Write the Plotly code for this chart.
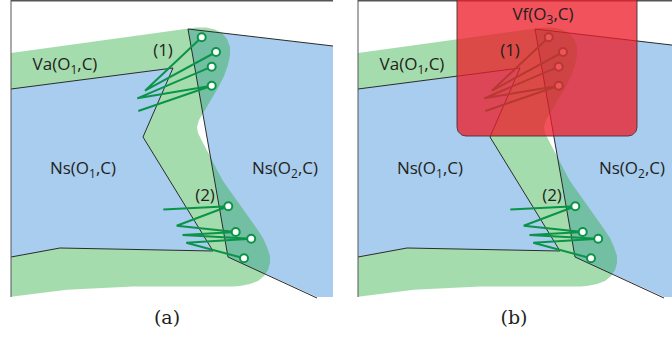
import numpy as np
import plotly.graph_objects as go

# ---------------- data (panel (a) coordinates, pixel space, y down) ----------------
PANEL_SHIFT = 347  # panel (b) is panel (a) shifted right

ns1_x = [11, 173, 143, 213, 60, 11]
ns1_y = [89, 68, 137, 251, 248, 257]

ns2_x = [188, 333, 333, 317, 228]
ns2_y = [29, 46, 297, 297, 257]

ns2_edge_x = [333, 188, 228, 317]
ns2_edge_y = [46, 29, 257, 298]

green_x = [11, 188, 196, 206, 215, 222, 227, 230, 230, 228, 224, 218, 211, 204, 199, 197, 198, 202,
           207, 212, 217, 223, 257, 263, 267, 270, 270, 268, 264, 258, 250, 240, 233, 200, 133, 67, 11,
           11, 60, 213, 143, 173, 11]
green_y = [53, 29, 27.5, 27.5, 29.5, 33, 39, 47, 55, 65, 76, 88, 100, 111, 120, 127, 133, 141,
           150, 160, 170, 181, 229, 238, 247, 256, 263, 270, 276, 281, 284, 286, 286.5, 286.5, 286.5,
           289.7, 296.7, 257, 248, 251, 137, 68, 89]

frame_top_x = [11, 333]
frame_top_y = [0.7, 0.7]
frame_left_x = [11, 11]
frame_left_y = [0, 297]

# trajectory group (1)
g1_circ_x = [201.7, 216, 211.7, 211.7]
g1_circ_y = [37.3, 52, 66.7, 85.7]
g1_pathA_x = [201.7, 145, 216]
g1_pathA_y = [37.3, 90.7, 52]
g1_pathB_x = [211.7, 137.3, 211.7, 138.3]
g1_pathB_y = [66.7, 98.3, 85.7, 111]

# trajectory group (2)
g2_circ_x = [228.3, 235.7, 251.2, 244]
g2_circ_y = [206.2, 232, 238.8, 258.3]
g2_path_x = [163.3, 228.3, 176.7, 235.7, 182.5, 251.2, 186.3, 244]
g2_path_y = [209.5, 206.2, 225.7, 232, 235, 238.8, 242.8, 258.3]

# red region Vf(O3,C) in panel (b)
vf_box = [457, 637, -12, 136]  # x0, x1, y0, y1
vf_radius = 9

labels_text = ["Va(O<sub>1</sub>,C)", "(1)", "Ns(O<sub>1</sub>,C)", "Ns(O<sub>2</sub>,C)", "(2)"]
labels_x = [65, 163, 83, 285, 205]
labels_y = [66, 52, 170, 170, 197]

vf_label = "Vf(O<sub>3</sub>,C)"
vf_label_xy = (543, 16)

captions = ["(a)", "(b)"]
captions_x = [167, 514]
captions_y = [319, 319]

# ---------------- styles ----------------
BLUE = "#a8cdee"
GREEN_FILL = "rgba(40,171,60,0.42)"
LINE_GREEN = "#0a9447"
EDGE = "#2b2b2b"
FRAME = "#555555"
RED_FILL = "rgba(237,28,40,0.76)"
TEXT = "#231f20"

fig = go.Figure()


def sh(xs, dx):
    return [v + dx for v in xs]


def add_poly(xs, ys, color):
    fig.add_trace(go.Scatter(x=xs + [xs[0]], y=ys + [ys[0]], mode="lines", fill="toself",
                             fillcolor=color, line=dict(width=0, color=color),
                             hoverinfo="skip", showlegend=False))


def add_line(xs, ys, color, width):
    fig.add_trace(go.Scatter(x=xs, y=ys, mode="lines", line=dict(color=color, width=width),
                             hoverinfo="skip", showlegend=False))


def add_text(xs, ys, texts, family, size):
    fig.add_trace(go.Scatter(x=xs, y=ys, mode="text", text=texts, textposition="middle center",
                             textfont=dict(family=family, size=size, color=TEXT),
                             hoverinfo="skip", showlegend=False, cliponaxis=False))


for dx in (0, PANEL_SHIFT):
    add_poly(sh(ns1_x, dx), ns1_y, BLUE)
    add_poly(sh(ns2_x, dx), ns2_y, BLUE)
    add_poly(sh(green_x, dx), green_y, GREEN_FILL)
    add_line(sh(ns1_x, dx), ns1_y, EDGE, 1)
    add_line(sh(ns2_edge_x, dx), ns2_edge_y, EDGE, 1)
    add_line(sh(frame_top_x, dx), frame_top_y, FRAME, 1.4)
    add_line(sh(frame_left_x, dx), frame_left_y, FRAME, 1)
    add_line(sh(g1_pathA_x, dx), g1_pathA_y, LINE_GREEN, 2)
    add_line(sh(g1_pathB_x, dx), g1_pathB_y, LINE_GREEN, 2)
    add_line(sh(g2_path_x, dx), g2_path_y, LINE_GREEN, 2)
    fig.add_trace(go.Scatter(x=sh(g1_circ_x + g2_circ_x, dx), y=g1_circ_y + g2_circ_y,
                             mode="markers",
                             marker=dict(size=8, color="white", line=dict(color=LINE_GREEN, width=2)),
                             hoverinfo="skip", showlegend=False))

# rounded red rectangle
x0, x1, y0, y1 = vf_box
r = vf_radius
corners = [((x0 + r, y0 + r), 180, 270), ((x1 - r, y0 + r), 270, 360),
           ((x1 - r, y1 - r), 0, 90), ((x0 + r, y1 - r), 90, 180)]
rx, ry = [], []
for (cx, cy), a0, a1 in corners:
    t = np.radians(np.linspace(a0, a1, 12))
    rx += list(cx + r * np.cos(t))
    ry += list(cy + r * np.sin(t))
fig.add_trace(go.Scatter(x=rx + [rx[0]], y=ry + [ry[0]], mode="lines", fill="toself",
                         fillcolor=RED_FILL, line=dict(color="rgba(70,50,50,0.9)", width=1),
                         hoverinfo="skip", showlegend=False))

# texts (drawn last, above everything)
all_x, all_y, all_t = [], [], []
for dx in (0, PANEL_SHIFT):
    all_x += sh(labels_x, dx)
    all_y += labels_y
    all_t += labels_text
all_x.append(vf_label_xy[0])
all_y.append(vf_label_xy[1])
all_t.append(vf_label)
add_text(all_x, all_y, all_t, "Open Sans", 17)
add_text(captions_x, captions_y, captions, "DejaVu Serif", 19)

fig.update_layout(
    width=672, height=338, margin=dict(l=0, r=0, t=0, b=0),
    paper_bgcolor="white", plot_bgcolor="white",
    xaxis=dict(range=[0, 672], visible=False, fixedrange=True),
    yaxis=dict(range=[338, 0], visible=False, fixedrange=True),
)

fig.write_html("out.html", config={"displayModeBar": False},
               post_script="document.body.style.margin='0px';document.body.style.overflow='hidden';")
